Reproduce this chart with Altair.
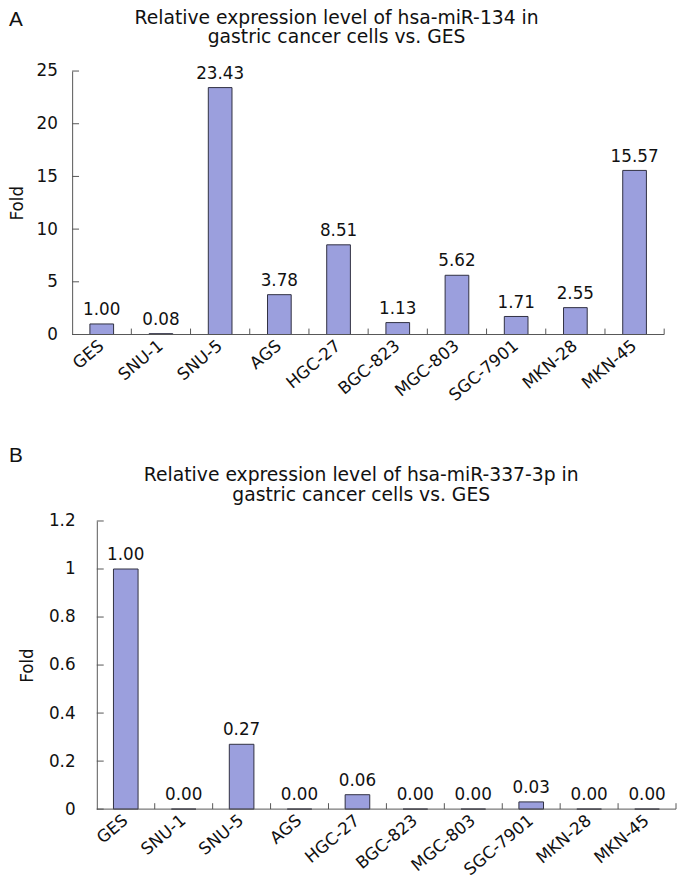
import altair as alt
import pandas as pd

cells = ["GES", "SNU-1", "SNU-5", "AGS", "HGC-27", "BGC-823", "MGC-803", "SGC-7901", "MKN-28", "MKN-45"]
mir134 = [1.00, 0.08, 23.43, 3.78, 8.51, 1.13, 5.62, 1.71, 2.55, 15.57]
mir337 = [1.00, 0.00, 0.27, 0.00, 0.06, 0.00, 0.00, 0.03, 0.00, 0.00]
ticks_a = [0, 5, 10, 15, 20, 25]
ticks_b = [0, 0.2, 0.4, 0.6, 0.8, 1.0, 1.2]
title_a = ["Relative expression level of hsa-miR-134 in", "gastric cancer cells vs. GES"]
title_b = ["Relative expression level of hsa-miR-337-3p in", "gastric cancer cells vs. GES"]

FONT = "DejaVu Sans"
BAR = "#9b9fdd"
EDGE = "#2f2f40"
AXIS = "#555555"
TEXT = "#111111"


def panel(values, ticks, ymax, w, h, shift, band, title, tx, ty, tlh,
          letter, ly, lpad, tpad):
    df = pd.DataFrame({"cell": cells, "fold": values})
    n = len(cells)
    step = (w - shift) / n
    po = shift / (2 * step)
    xscale = alt.Scale(domain=cells, paddingInner=0, paddingOuter=po, align=1)
    yscale = alt.Scale(domain=[0, ymax], nice=False, zero=True)
    xaxis = alt.Axis(title=None, labelAngle=-40, labelAlign="right",
                     labelBaseline="middle", labelPadding=9, ticks=False,
                     domain=False, labelFont=FONT, labelFontSize=17,
                     labelColor=TEXT)
    yaxis = alt.Axis(title="Fold", values=ticks, format="~g", ticks=False,
                     grid=False, domainColor=AXIS, offset=-shift,
                     labelPadding=lpad, labelFont=FONT, labelFontSize=17,
                     labelColor=TEXT, titleFont=FONT, titleFontSize=17,
                     titleFontWeight="normal", titleColor=TEXT,
                     titlePadding=tpad)
    x = alt.X("cell:N", scale=xscale, sort=cells, axis=xaxis)
    y = alt.Y("fold:Q", scale=yscale, axis=yaxis)

    bars = alt.Chart(df).mark_bar(
        width=alt.RelativeBandSize(band), fill=BAR, stroke=EDGE, strokeWidth=1
    ).encode(x=x, y=y)
    labels = alt.Chart(df).mark_text(
        baseline="bottom", dy=-5, font=FONT, fontSize=17, color=TEXT
    ).encode(x=x, y=y, text=alt.Text("fold:Q", format=".2f"))

    ytk = alt.Chart(pd.DataFrame({"fold": ticks})).mark_rule(
        color=AXIS, strokeWidth=1
    ).encode(y=y, x=alt.value(shift), x2=alt.value(shift + 7))

    xb = alt.X("cell:N", scale=xscale, sort=cells, axis=xaxis, bandPosition=0)
    xe = alt.X("cell:N", scale=xscale, sort=cells, axis=xaxis, bandPosition=1)
    xtk1 = alt.Chart(pd.DataFrame({"cell": cells[1:]})).mark_rule(
        color=AXIS, strokeWidth=1
    ).encode(x=xb, y=alt.value(h - 6), y2=alt.value(h))
    xtk2 = alt.Chart(pd.DataFrame({"cell": cells[-1:]})).mark_rule(
        color=AXIS, strokeWidth=1
    ).encode(x=xe, y=alt.value(h - 6), y2=alt.value(h))

    xdom = alt.Chart(pd.DataFrame({"fold": [0]})).mark_rule(
        color=AXIS, strokeWidth=1
    ).encode(y=y, x=alt.value(shift), x2=alt.value(w))

    let = alt.Chart(pd.DataFrame({"k": [letter]})).mark_text(
        align="left", baseline="alphabetic", font="Liberation Sans",
        fontSize=21, color=TEXT
    ).encode(text="k:N", x=alt.value(-64), y=alt.value(ly))

    ttl = alt.Chart(pd.DataFrame({"k": [0]})).mark_text(
        text=title, align="center", baseline="top", font=FONT, fontSize=19,
        color=TEXT, lineHeight=tlh
    ).encode(x=alt.value(tx), y=alt.value(ty))

    return alt.layer(bars, labels, ytk, xtk1, xtk2, xdom, let, ttl).properties(
        width=w, height=h
    )


pa = panel(mir134, ticks_a, 25, 600, 267, 0, 0.4, title_a, 268, -63, 20,
           "A", -46, 15, 10)
pb = panel(mir337, ticks_b, 1.2, 612, 292, 25, 0.425, title_b, 293, -56, 21,
           "B", -60, 22, 12)

chart = alt.vconcat(pa, pb, spacing=42).properties(
    padding={"left": 0, "top": -5, "right": 0, "bottom": 0}
).configure_view(stroke=None)

chart.save("out.html", embed_options={"renderer": "svg", "actions": False})
